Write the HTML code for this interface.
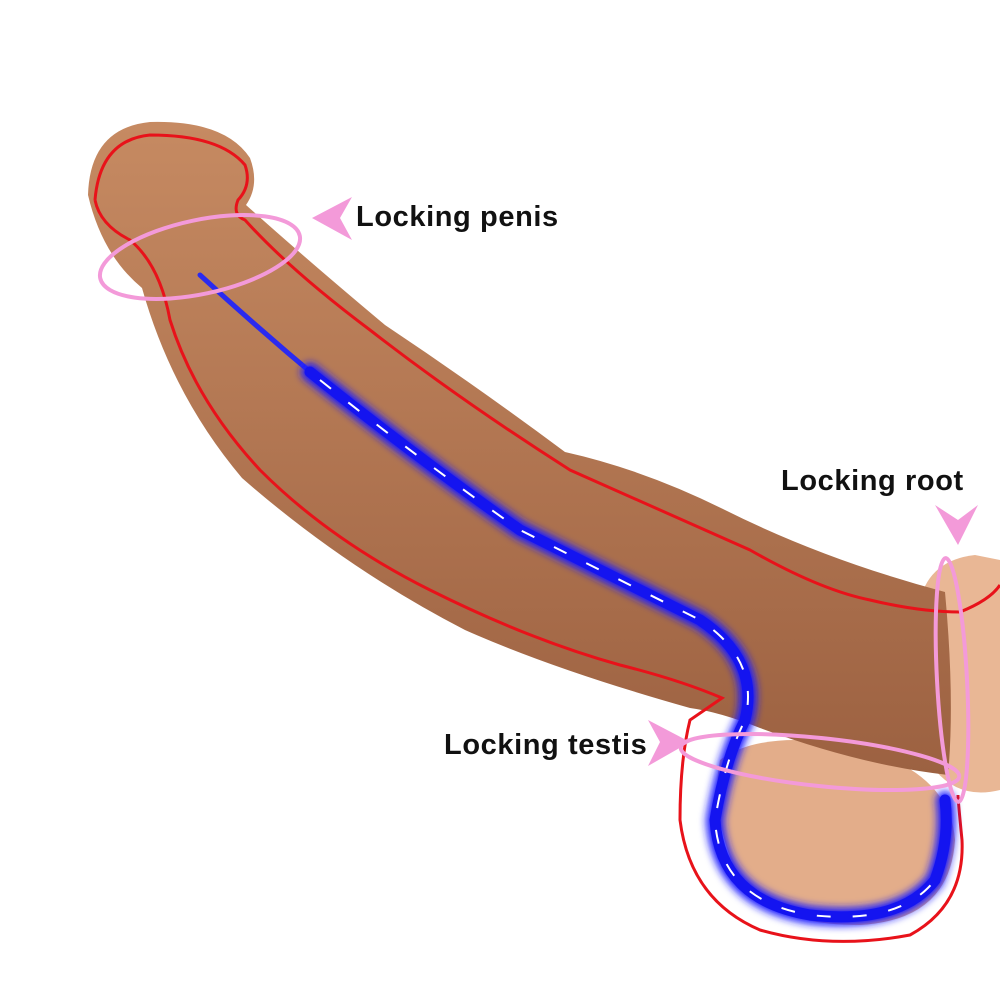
<!DOCTYPE html>
<html><head><meta charset="utf-8"><style>
html,body{margin:0;padding:0;background:#fff;}
svg{display:block}
text{font-family:"Liberation Sans",sans-serif;font-weight:bold;font-size:29px;letter-spacing:0.6px;fill:#111}
</style></head><body>
<svg width="1000" height="1000" viewBox="0 0 1000 1000" xmlns="http://www.w3.org/2000/svg">
<defs>
<filter id="glow" x="-20%" y="-20%" width="140%" height="140%"><feGaussianBlur stdDeviation="4"/></filter>
<linearGradient id="br" x1="0" y1="0" x2="0" y2="1">
<stop offset="0" stop-color="#c68a62"/><stop offset="1" stop-color="#9c6141"/></linearGradient>
</defs>
<path d="M920,600 Q930,560 975,555 L1000,560 L1000,790 Q960,800 935,770 Z" fill="#e9b795"/>
<path d="M720,760 Q760,730 850,745 Q950,770 955,840 Q950,920 860,925 Q760,925 735,870 Q710,810 720,760 Z" fill="#e3ad8a"/>
<path d="M88,195 Q90,128 150,122 Q225,120 250,158 Q260,185 246,205 Q305,258 385,325 Q475,385 565,452 Q645,470 725,510 Q825,560 945,592 Q955,700 948,775 Q860,765 760,728 Q720,712 690,708 Q555,670 465,630 Q345,568 242,478 Q172,395 142,288 Q102,255 88,195 Z" fill="url(#br)"/>
<path d="M95,200 Q100,140 150,135 Q220,135 245,165 Q252,185 238,200 Q232,215 245,220 Q290,270 370,330 Q460,400 570,470 Q660,510 750,550 Q820,590 870,600 Q920,612 960,612 Q990,600 1000,585" fill="none" stroke="#e8121a" stroke-width="3"/>
<path d="M95,200 Q100,225 130,240 Q160,265 170,320 Q195,400 260,470 Q330,540 430,590 Q530,640 620,665 Q680,680 722,698 L690,720 Q680,760 680,820 Q690,900 760,930 Q830,950 910,935 Q965,905 962,840 Q958,800 958,795" fill="none" stroke="#e8121a" stroke-width="3"/>
<path d="M200,275 Q260,330 320,380" fill="none" stroke="#2a2af0" stroke-width="5" stroke-linecap="round"/>
<g filter="url(#glow)">
<path d="M310,372 Q420,460 520,530 Q620,580 700,620 Q760,660 745,720 Q725,760 715,820 Q720,900 810,915 Q900,925 935,880 Q950,840 945,800" fill="none" stroke="#1a1aff" stroke-width="18" stroke-linecap="round"/>
</g>
<path d="M310,372 Q420,460 520,530 Q620,580 700,620 Q760,660 745,720 Q725,760 715,820 Q720,900 810,915 Q900,925 935,880 Q950,840 945,800" fill="none" stroke="#1414f0" stroke-width="11" stroke-linecap="round"/>
<path d="M320,380 Q420,460 520,530 Q620,580 700,620 Q760,660 745,720 Q725,760 715,820 Q720,900 810,915 Q900,925 935,880" fill="none" stroke="#fff" stroke-width="2" stroke-dasharray="14 22"/>
<g fill="none" stroke="#f39ad9" stroke-width="4">
<ellipse cx="200" cy="257" rx="102" ry="37" transform="rotate(-12 200 257)"/>
<ellipse cx="820" cy="762" rx="140" ry="24" transform="rotate(6 820 762)"/>
<ellipse cx="952" cy="680" rx="15" ry="122" transform="rotate(-3 952 680)"/>
</g>
<path d="M312,218 L352,197 L340,218 L352,240 Z" fill="#f39ad9"/>
<path d="M690,742 L648,720 L660,742 L648,766 Z" fill="#f39ad9"/>
<path d="M935,505 L958,520 L978,505 L958,545 Z" fill="#f39ad9"/>
<text x="356" y="226">Locking penis</text>
<text x="781" y="490">Locking root</text>
<text x="444" y="754">Locking testis</text>
</svg>
</body></html>
